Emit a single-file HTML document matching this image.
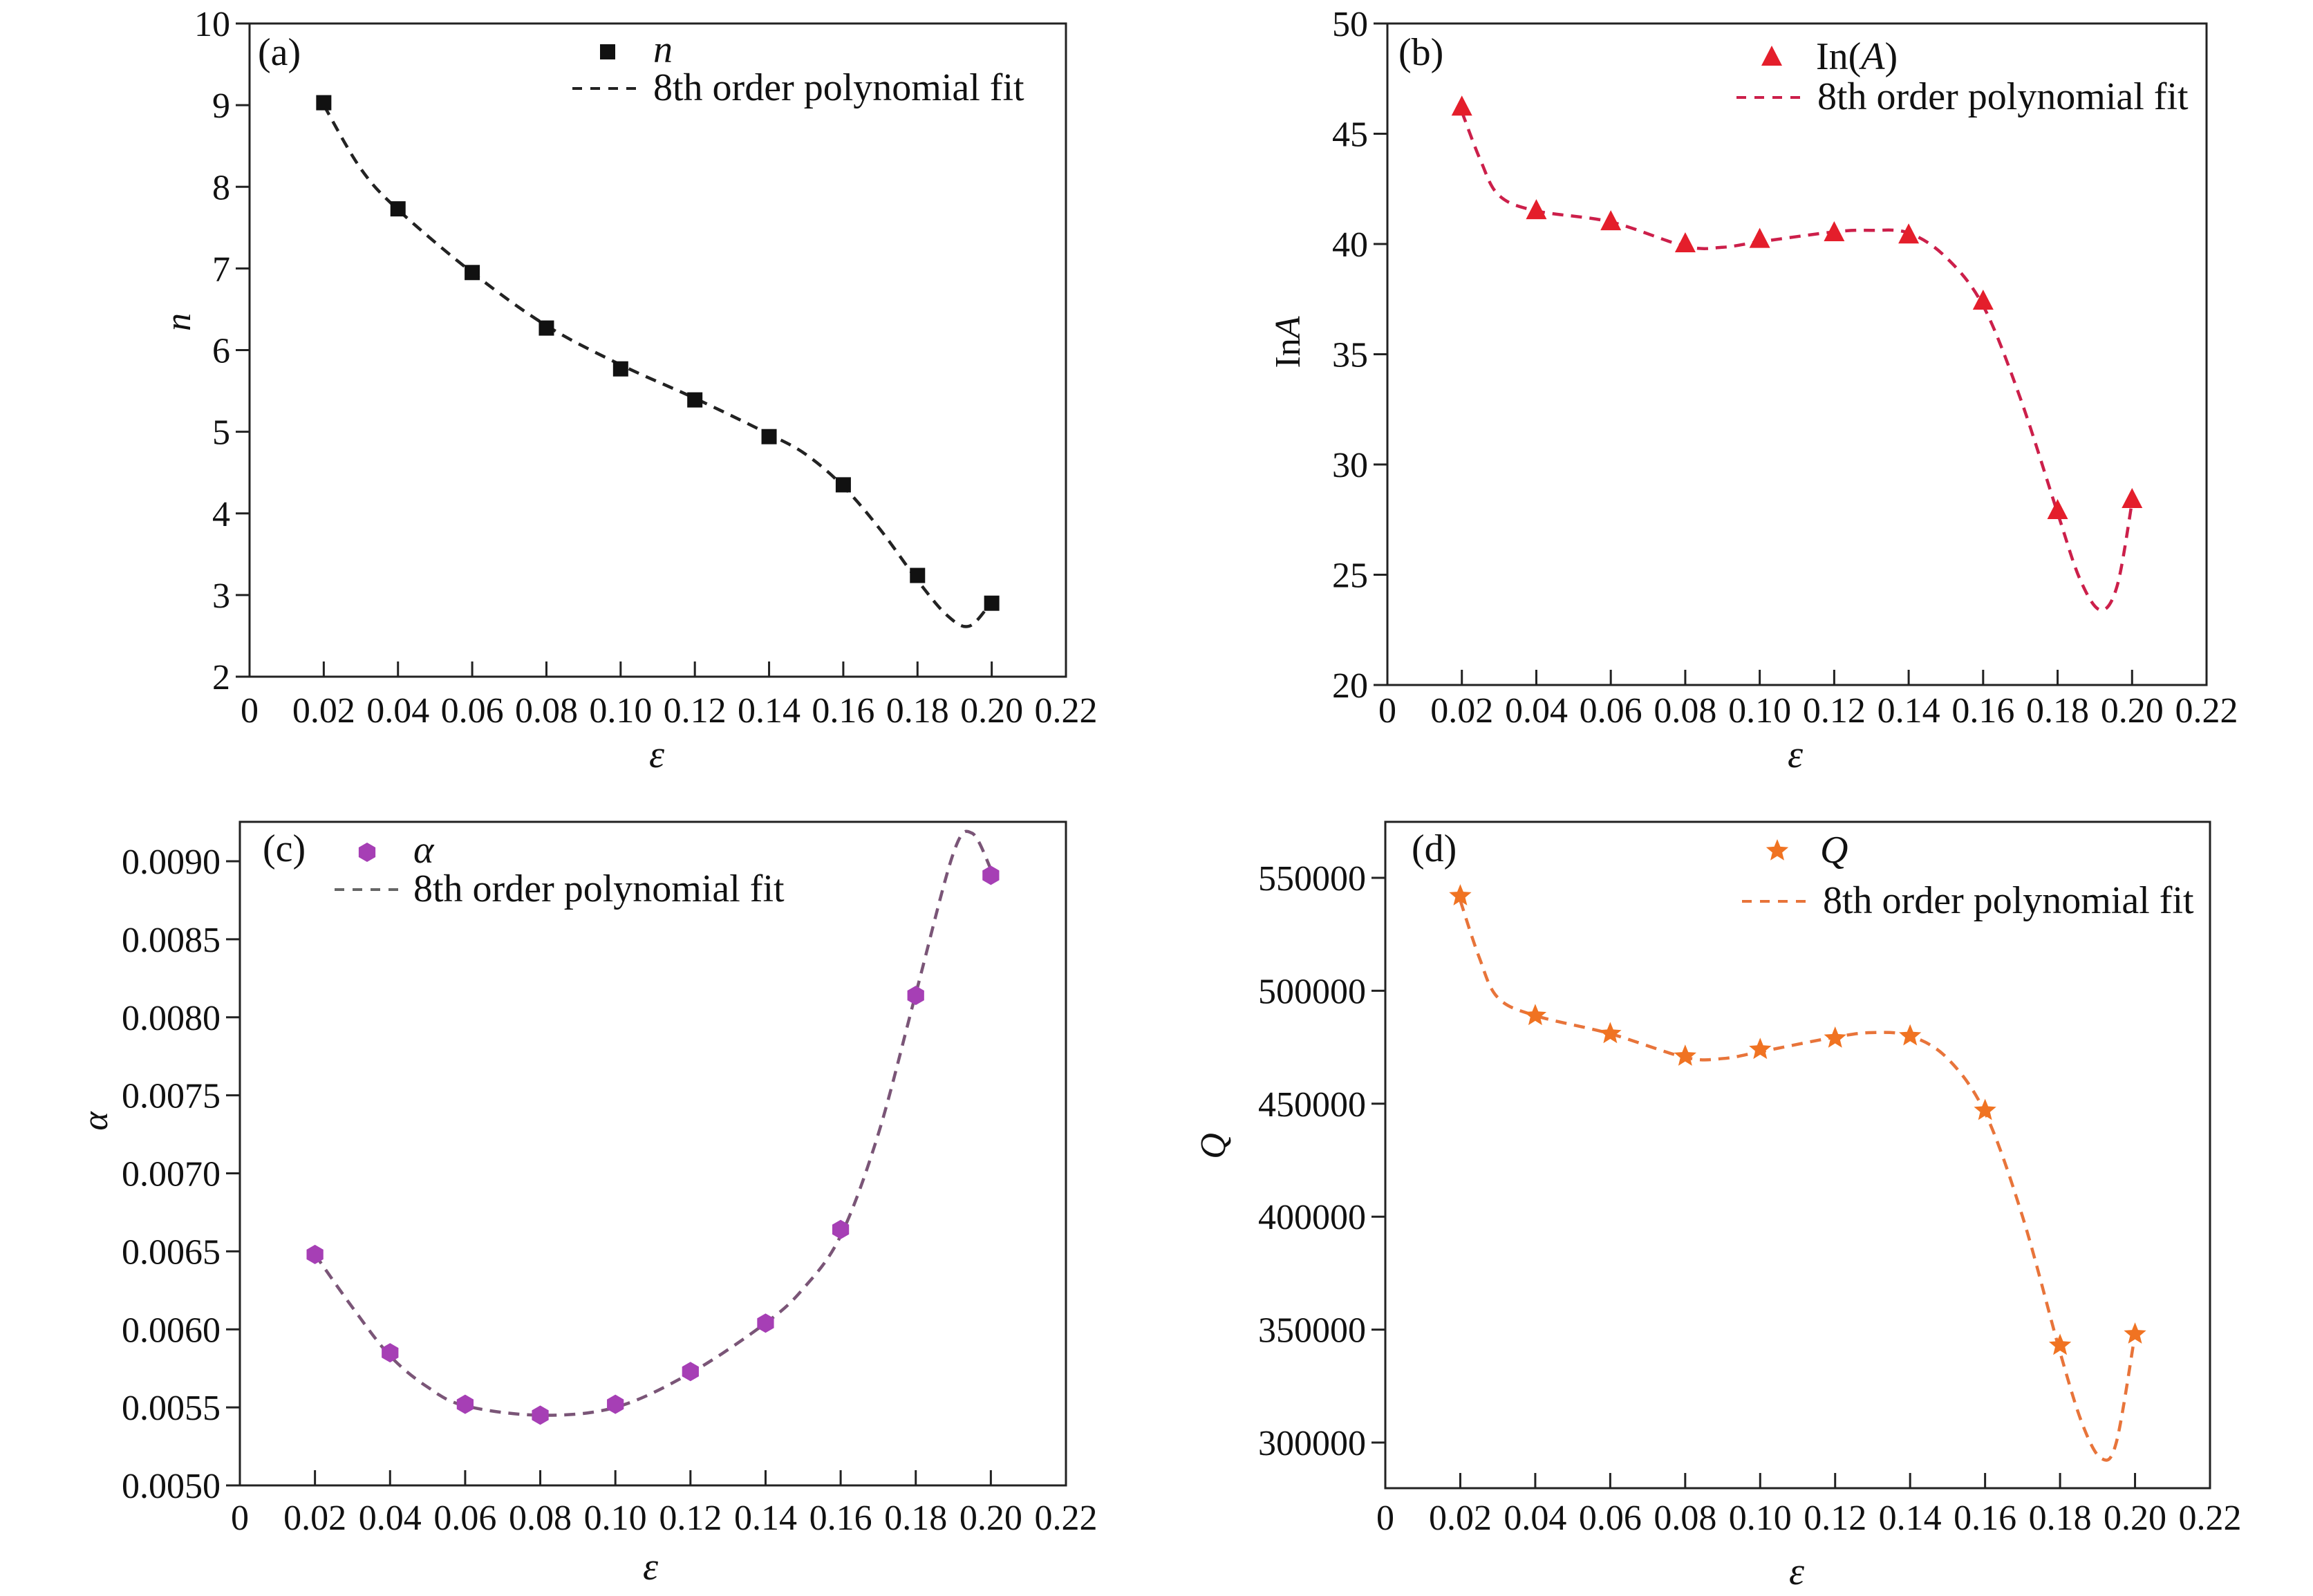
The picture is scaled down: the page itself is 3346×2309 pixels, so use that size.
<!DOCTYPE html>
<html><head><meta charset="utf-8"><style>
html,body{margin:0;padding:0;background:#fff;}
svg{display:block;}
text{font-family:"Liberation Serif",serif;fill:#111;}
</style></head><body>
<svg id="s" width="3346" height="2309" viewBox="0 0 3346 2309" xmlns="http://www.w3.org/2000/svg"></svg>
<script>
const S=document.getElementById('s');let out='';
function P(p){
 const xs=(x)=>p.L+(x/0.22)*(p.R-p.L);
 const ys=(y)=>p.y0px+(y-p.y0)/(p.y1-p.y0)*(p.y1px-p.y0px);
 out+=`<rect x="${p.L}" y="${p.T}" width="${p.R-p.L}" height="${p.B-p.T}" fill="none" stroke="#222" stroke-width="3"/>`;
 for(let i=0;i<=11;i++){const v=i*0.02;const x=xs(v);
  if(i>0&&i<11) out+=`<line x1="${x}" y1="${p.B}" x2="${x}" y2="${p.B-22}" stroke="#222" stroke-width="3"/>`;
  const lab=i==0?'0':v.toFixed(2);
  out+=`<text x="${x}" y="${p.xlb}" font-size="52" text-anchor="middle">${lab}</text>`;}
 p.yt.forEach(v=>{const y=ys(v);
  out+=`<line x1="${p.L}" y1="${y}" x2="${p.L-20}" y2="${y}" stroke="#222" stroke-width="3"/>`;
  out+=`<text x="${p.L-28}" y="${y+18}" font-size="52" text-anchor="end">${p.fmt(v)}</text>`;});
 const c=p.curve.map(q=>[xs(q[0]),ys(q[1])]);
 let d=`M${c[0][0]},${c[0][1]}`;
 for(let i=0;i<c.length-1;i++){const p0=c[Math.max(0,i-1)],p1=c[i],p2=c[i+1],p3=c[Math.min(c.length-1,i+2)];
  d+=` C${p1[0]+(p2[0]-p0[0])/6},${p1[1]+(p2[1]-p0[1])/6} ${p2[0]-(p3[0]-p1[0])/6},${p2[1]-(p3[1]-p1[1])/6} ${p2[0]},${p2[1]}`;}
 out+=`<path d="${d}" fill="none" stroke="${p.lc}" stroke-width="4.5" stroke-dasharray="16 11"/>`;
 p.data.forEach((v,i)=>{out+=p.mk(xs(0.02*(i+1)),ys(v));});
 out+=p.extra;
}
const sq=(x,y)=>`<rect x="${x-11}" y="${y-11}" width="22" height="22" fill="#111"/>`;
const tri=(x,y)=>`<polygon points="${x},${y-17} ${x-15},${y+12} ${x+15},${y+12}" fill="#e41e2b"/>`;
const hex=(x,y)=>{let s='';for(let k=0;k<6;k++){const a=Math.PI/3*k+Math.PI/6;s+=`${x+14*Math.cos(a)},${y+14*Math.sin(a)} `;}return `<polygon points="${s}" fill="#a63fb5"/>`;};
const star=(x,y)=>{let s='';for(let k=0;k<10;k++){const r=k%2?7.5:17;const a=-Math.PI/2+k*Math.PI/5;s+=`${x+r*Math.cos(a)},${y+r*Math.sin(a)} `;}return `<polygon points="${s}" fill="#f07322"/>`;};
const lbl=(x,y,t,extra='')=>`<text x="${x}" y="${y}" font-size="56" ${extra}>${t}</text>`;
P({L:361,R:1542,T:34,B:979,y0:2,y1:10,y0px:979,y1px:34,xlb:1045,yt:[2,3,4,5,6,7,8,9,10],fmt:v=>v,
 lc:'#222',mk:sq,data:[9.03,7.73,6.95,6.27,5.77,5.39,4.94,4.35,3.24,2.9],
 curve:[[0.02,9.0],[0.03,8.22],[0.04,7.72],[0.06,6.95],[0.08,6.3],[0.10,5.82],[0.12,5.41],[0.14,4.97],[0.15,4.72],[0.16,4.33],[0.17,3.8],[0.18,3.18],[0.188,2.75],[0.194,2.62],[0.2,2.92]],
 extra:lbl(373,94,'(a)')+sq(879,75)+lbl(945,90,'n','font-style="italic"')+`<line x1="828" y1="128" x2="922" y2="128" stroke="#222" stroke-width="4" stroke-dasharray="14 12"/>`+lbl(945,145,'8th order polynomial fit')
  +`<text x="275" y="466" font-size="52" font-style="italic" transform="rotate(-90 275 466)" text-anchor="middle">n</text>`
  +lbl(950,1110,'ε','font-style="italic" text-anchor="middle"')});
P({L:2007,R:3192,T:34,B:991,y0:20,y1:50,y0px:991,y1px:34,xlb:1045,yt:[20,25,30,35,40,45,50],fmt:v=>v,
 lc:'#cc1f4a',mk:tri,data:[46.2,41.5,41.0,40.0,40.2,40.5,40.4,37.4,27.9,28.4],
 curve:[[0.02,46.0],[0.025,43.8],[0.03,42.2],[0.04,41.5],[0.06,41.0],[0.08,39.9],[0.09,39.85],[0.10,40.1],[0.12,40.55],[0.13,40.62],[0.14,40.5],[0.15,39.4],[0.16,37.2],[0.17,33],[0.18,27.8],[0.186,24.8],[0.1915,23.4],[0.196,24.5],[0.2,28.3]],
 extra:lbl(2023,94,'(b)')+tri(2563,83)+`<text x="2627" y="100" font-size="56">In(<tspan font-style="italic">A</tspan>)</text>`+`<line x1="2512" y1="141" x2="2608" y2="141" stroke="#cc1f4a" stroke-width="4" stroke-dasharray="14 12"/>`+lbl(2629,158,'8th order polynomial fit')
  +`<text x="1880" y="495" font-size="52" transform="rotate(-90 1880 495)" text-anchor="middle">In<tspan font-style="italic">A</tspan></text>`
  +lbl(2597,1110,'ε','font-style="italic" text-anchor="middle"')});
P({L:347,R:1542,T:1189,B:2149,y0:0.005,y1:0.009,y0px:2149,y1px:1246,xlb:2213,yt:[0.005,0.0055,0.006,0.0065,0.007,0.0075,0.008,0.0085,0.009],fmt:v=>v.toFixed(4),
 lc:'#7a5577',mk:hex,data:[0.00648,0.00585,0.00552,0.00545,0.00552,0.00573,0.00604,0.00664,0.00814,0.00891],
 curve:[[0.02,0.00648],[0.03,0.00614],[0.04,0.00583],[0.05,0.00563],[0.06,0.00551],[0.08,0.00545],[0.10,0.0055],[0.12,0.00572],[0.14,0.00604],[0.15,0.00626],[0.16,0.0066],[0.17,0.00725],[0.18,0.00815],[0.19,0.00905],[0.195,0.00918],[0.2,0.00895]],
 extra:lbl(380,1246,'(c)')+hex(531,1233)+lbl(598,1248,'α','font-style="italic"')+`<line x1="484" y1="1287" x2="576" y2="1287" stroke="#666" stroke-width="4" stroke-dasharray="14 12"/>`+lbl(598,1304,'8th order polynomial fit')
  +`<text x="155" y="1622" font-size="52" font-style="italic" transform="rotate(-90 155 1622)" text-anchor="middle">α</text>`
  +lbl(941,2285,'ε','font-style="italic" text-anchor="middle"')});
P({L:2004,R:3197,T:1189,B:2153,y0:300000,y1:550000,y0px:2087,y1px:1270,xlb:2213,yt:[300000,350000,400000,450000,500000,550000],fmt:v=>v,
 lc:'#e8743a',mk:star,data:[542000,489000,481000,471000,474000,479000,480000,447000,343000,348000],
 curve:[[0.02,540000],[0.025,515000],[0.03,497000],[0.04,489000],[0.06,481000],[0.08,470500],[0.09,470000],[0.10,473000],[0.12,479500],[0.13,481500],[0.14,480000],[0.15,470000],[0.16,446000],[0.17,400000],[0.18,340000],[0.186,308000],[0.191,293000],[0.195,300000],[0.2,348000]],
 extra:lbl(2042,1246,'(d)')+star(2571,1231)+lbl(2633,1248,'Q','font-style="italic"')+`<line x1="2520" y1="1304" x2="2616" y2="1304" stroke="#e8743a" stroke-width="4" stroke-dasharray="14 12"/>`+lbl(2637,1321,'8th order polynomial fit')
  +`<text x="1772" y="1658" font-size="52" font-style="italic" transform="rotate(-90 1772 1658)" text-anchor="middle">Q</text>`
  +lbl(2599,2292,'ε','font-style="italic" text-anchor="middle"')});
S.innerHTML=out;
</script>
</body></html>
